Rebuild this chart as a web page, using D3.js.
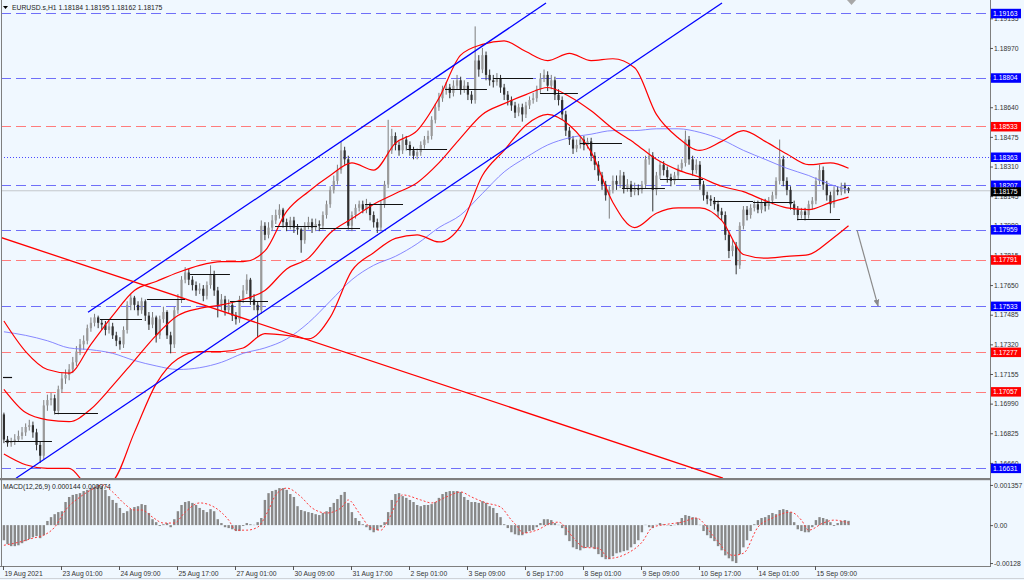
<!DOCTYPE html>
<html><head><meta charset="utf-8">
<script src="https://cdn.jsdelivr.net/npm/d3@7"></script>
<style>
html,body{margin:0;padding:0;background:#f0f8ff;overflow:hidden;}
svg{display:block;font-family:"Liberation Sans",Arial,sans-serif;}
</style></head><body>
<svg id="chart" width="1024" height="580"></svg>
<script>
// ---------------- DATA ----------------
const symbolTitle = "EURUSD.s,H1  1.18184 1.18195 1.18162 1.18175";
const macdTitle = "MACD(12,26,9) 0.000144 0.000074";
const timeLabels = ["19 Aug 2021","23 Aug 01:00","24 Aug 09:00","25 Aug 17:00","27 Aug 01:00","30 Aug 09:00","31 Aug 17:00","2 Sep 01:00","3 Sep 09:00","6 Sep 17:00","8 Sep 01:00","9 Sep 09:00","10 Sep 17:00","14 Sep 01:00","15 Sep 09:00"];
const timeLabelBars = [0,32,64,96,128,160,192,224,256,288,320,352,384,416,448];
const priceTicks = [1.19135,1.18970,1.18805,1.18640,1.18475,1.18310,1.18145,1.17980,1.17815,1.17650,1.17485,1.17320,1.17155,1.16990,1.16825,1.16660];
const macdTicks = [0.001357,0,-0.00128];
const macdTickLabels = ["0.001357","0.00","-0.00128"];

// 2-hour candles (open = previous close)
const firstOpen = 1.1693;
const closes = [1.1679,1.1677,1.1678,1.1679,1.1681,1.1683,1.1686,1.1687,1.1683,1.1676,
1.1670,1.1698,1.1701,1.1702,1.1695,1.1707,1.1713,1.1715,1.1718,1.1722,
1.1728,1.1732,1.1734,1.1741,1.1744,1.1747,1.1744,1.1743,1.1740,1.1742,
1.1737,1.1734,1.1732,1.1740,1.1754,1.1758,1.1754,1.1751,1.1756,1.1748,
1.1743,1.1747,1.1737,1.1746,1.1750,1.1737,1.1732,1.1751,1.1757,1.1768,
1.1772,1.1768,1.1765,1.1762,1.1763,1.1759,1.1765,1.1771,1.1762,1.1754,
1.1757,1.1751,1.1754,1.1748,1.1746,1.1757,1.1762,1.1768,1.1757,1.1754,
1.1751,1.1798,1.1793,1.1797,1.1801,1.1804,1.1807,1.1800,1.1798,1.1801,
1.1797,1.1796,1.1790,1.1798,1.1800,1.1797,1.1799,1.1798,1.1804,1.1810,
1.1818,1.1823,1.1829,1.1840,1.1835,1.1798,1.1804,1.1808,1.1810,1.1807,
1.1810,1.1804,1.1800,1.1797,1.1810,1.1821,1.1840,1.1848,1.1843,1.1840,
1.1846,1.1843,1.1840,1.1837,1.1839,1.1843,1.1846,1.1848,1.1857,1.1864,
1.1869,1.1874,1.1875,1.1872,1.1876,1.1879,1.1874,1.1876,1.1871,1.1868,
1.1890,1.1885,1.1893,1.1882,1.1879,1.1878,1.1880,1.1875,1.1871,1.1868,
1.1865,1.1861,1.1864,1.1860,1.1865,1.1868,1.1869,1.1874,1.1880,1.1882,
1.1876,1.1879,1.1871,1.1868,1.1860,1.1851,1.1846,1.1841,1.1843,1.1846,
1.1843,1.1845,1.1837,1.1832,1.1826,1.1821,1.1815,1.1818,1.1823,1.1821,
1.1826,1.1819,1.1821,1.1817,1.1819,1.1818,1.1821,1.1835,1.1837,1.1818,
1.1826,1.1832,1.1829,1.1825,1.1823,1.1826,1.1830,1.1833,1.1846,1.1835,
1.1829,1.1832,1.1821,1.1815,1.1813,1.1812,1.1810,1.1806,1.1804,1.1793,
1.1784,1.1787,1.1776,1.1798,1.1807,1.1804,1.1808,1.1810,1.1807,1.1811,
1.1809,1.1812,1.1815,1.1823,1.1835,1.1823,1.1818,1.1810,1.1807,1.1804,
1.1806,1.1804,1.1810,1.1812,1.1823,1.1829,1.1821,1.1815,1.1810,1.1818,
1.1817,1.1820,1.1819,1.18175];
const highs = [1.1694,1.1681,1.1680,1.1682,1.1684,1.1686,1.1688,1.1690,1.1689,1.1685,
1.1678,1.1701,1.1704,1.1705,1.1704,1.1709,1.1716,1.1718,1.1721,1.1725,
1.1731,1.1735,1.1737,1.1743,1.1747,1.1749,1.1748,1.1746,1.1745,1.1745,
1.1744,1.1739,1.1736,1.1742,1.1756,1.1760,1.1759,1.1756,1.1758,1.1757,
1.1750,1.1750,1.1748,1.1748,1.1753,1.1751,1.1739,1.1753,1.1760,1.1770,
1.1775,1.1774,1.1770,1.1767,1.1766,1.1765,1.1767,1.1776,1.1773,1.1764,
1.1760,1.1759,1.1757,1.1756,1.1750,1.1759,1.1765,1.1771,1.1769,1.1760,
1.1756,1.1801,1.1800,1.1800,1.1804,1.1807,1.1810,1.1808,1.1802,1.1803,
1.1803,1.1799,1.1797,1.1800,1.1803,1.1802,1.1802,1.1801,1.1806,1.1812,
1.1820,1.1826,1.1832,1.1845,1.1842,1.1837,1.1806,1.1810,1.1812,1.1812,
1.1813,1.1811,1.1806,1.1802,1.1812,1.1823,1.1857,1.1852,1.1850,1.1845,
1.1849,1.1848,1.1845,1.1842,1.1841,1.1845,1.1848,1.1851,1.1859,1.1866,
1.1872,1.1876,1.1878,1.1877,1.1879,1.1882,1.1881,1.1879,1.1878,1.1873,
1.1909,1.1893,1.1897,1.1895,1.1885,1.1882,1.1883,1.1882,1.1877,1.1873,
1.1870,1.1867,1.1866,1.1866,1.1867,1.1870,1.1872,1.1876,1.1883,1.1885,
1.1884,1.1882,1.1881,1.1874,1.1870,1.1862,1.1853,1.1848,1.1846,1.1848,
1.1848,1.1847,1.1847,1.1839,1.1834,1.1828,1.1823,1.1820,1.1826,1.1826,
1.1829,1.1828,1.1824,1.1823,1.1822,1.1821,1.1823,1.1837,1.1841,1.1839,
1.1828,1.1834,1.1834,1.1831,1.1827,1.1828,1.1832,1.1835,1.1851,1.1848,
1.1837,1.1835,1.1834,1.1823,1.1817,1.1815,1.1814,1.1812,1.1808,1.1806,
1.1795,1.1790,1.1789,1.1800,1.1809,1.1809,1.1810,1.1812,1.1812,1.1813,
1.1813,1.1814,1.1817,1.1825,1.1846,1.1837,1.1825,1.1820,1.1812,1.1809,
1.1808,1.1808,1.1812,1.1814,1.1825,1.1832,1.1831,1.1823,1.1817,1.1820,
1.1820,1.1822,1.1822,1.18195];
const lows = [1.1677,1.1675,1.1675,1.1676,1.1678,1.1679,1.1681,1.1684,1.1680,1.1673,
1.1666,1.1668,1.1695,1.1698,1.1693,1.1693,1.1705,1.1710,1.1712,1.1716,
1.1720,1.1726,1.1729,1.1732,1.1739,1.1742,1.1741,1.1740,1.1737,1.1738,
1.1735,1.1731,1.1729,1.1730,1.1738,1.1751,1.1751,1.1748,1.1749,1.1745,
1.1740,1.1741,1.1733,1.1735,1.1744,1.1735,1.1727,1.1730,1.1749,1.1755,
1.1766,1.1765,1.1762,1.1759,1.1760,1.1756,1.1757,1.1763,1.1759,1.1747,
1.1751,1.1748,1.1749,1.1745,1.1743,1.1744,1.1755,1.1760,1.1754,1.1751,
1.1736,1.1749,1.1790,1.1791,1.1795,1.1799,1.1802,1.1797,1.1795,1.1796,
1.1794,1.1793,1.1783,1.1788,1.1796,1.1794,1.1795,1.1795,1.1796,1.1802,
1.1808,1.1816,1.1821,1.1827,1.1832,1.1796,1.1795,1.1802,1.1806,1.1805,
1.1805,1.1801,1.1797,1.1794,1.1795,1.1808,1.1819,1.1838,1.1840,1.1837,
1.1838,1.1840,1.1837,1.1835,1.1835,1.1837,1.1841,1.1844,1.1846,1.1855,
1.1862,1.1867,1.1871,1.1869,1.1870,1.1874,1.1871,1.1872,1.1868,1.1866,
1.1866,1.1881,1.1883,1.1879,1.1876,1.1875,1.1876,1.1872,1.1868,1.1865,
1.1862,1.1858,1.1859,1.1856,1.1858,1.1863,1.1866,1.1867,1.1872,1.1878,
1.1873,1.1874,1.1868,1.1865,1.1857,1.1848,1.1843,1.1838,1.1839,1.1841,
1.1840,1.1841,1.1834,1.1829,1.1823,1.1818,1.1812,1.1802,1.1816,1.1818,
1.1819,1.1816,1.1817,1.1814,1.1815,1.1815,1.1816,1.1819,1.1832,1.1806,
1.1815,1.1824,1.1826,1.1822,1.1820,1.1821,1.1824,1.1828,1.1831,1.1832,
1.1826,1.1827,1.1818,1.1812,1.1810,1.1809,1.1807,1.1803,1.1801,1.1790,
1.1780,1.1781,1.1771,1.1774,1.1796,1.1801,1.1802,1.1806,1.1805,1.1805,
1.1806,1.1807,1.1810,1.1813,1.1821,1.1820,1.1815,1.1807,1.1804,1.1801,
1.1802,1.1801,1.1802,1.1807,1.1810,1.1821,1.1818,1.1812,1.1805,1.1808,
1.1815,1.1815,1.1816,1.18162];

// Bollinger bands and slow MA, sampled every 6 candles
const bandIdx = [0,6,12,18,24,30,36,42,48,54,60,66,72,78,84,90,96,102,108,114,120,126,132,138,144,150,156,162,168,174,180,186,192,198,204,210,216,222,228,233];
const bbUpper = [1.1745,1.1728,1.1718,1.1716,1.1732,1.1748,1.1762,1.1767,1.1772,1.1776,1.1778,1.1778,1.1784,1.1806,1.1817,1.1826,1.1833,1.1829,1.1844,1.1851,1.1869,1.1893,1.1899,1.1901,1.1895,1.1890,1.1894,1.1890,1.1891,1.1886,1.1860,1.1847,1.1840,1.1845,1.1851,1.1845,1.1838,1.1832,1.1833,1.1830];
const bbMiddle = [1.1707,1.1694,1.1690,1.1689,1.1696,1.1709,1.1723,1.1737,1.1748,1.1752,1.1754,1.1757,1.1762,1.1774,1.1780,1.1794,1.1802,1.1810,1.1816,1.1822,1.1833,1.1847,1.1860,1.1866,1.1871,1.1875,1.1870,1.1862,1.1852,1.1844,1.1835,1.1829,1.1825,1.1820,1.1817,1.1812,1.1808,1.1807,1.1811,1.1814];
const bbLower = [1.1671,1.1665,1.1663,1.1663,1.1652,1.1656,1.1683,1.1710,1.1724,1.1728,1.1728,1.1730,1.1738,1.1737,1.1735,1.1747,1.1773,1.1783,1.1791,1.1793,1.1789,1.1798,1.1826,1.1840,1.1854,1.1860,1.1854,1.1839,1.1811,1.1797,1.1805,1.1808,1.1808,1.1801,1.1782,1.1780,1.1781,1.1782,1.1790,1.1798];
const maSlow = [1.1739,1.1737,1.1734,1.1730,1.1729,1.1727,1.1723,1.1720,1.1718,1.1719,1.1722,1.1727,1.1730,1.1735,1.1744,1.1756,1.1768,1.1776,1.1781,1.1788,1.1797,1.1804,1.1816,1.1828,1.1836,1.1843,1.1847,1.1849,1.1851,1.1851,1.1852,1.1852,1.1850,1.1846,1.1840,1.1835,1.1830,1.1826,1.1821,1.1818];

// MACD histogram per candle and signal samples
const macdHist = [-0.00051,-0.00064,-0.00071,-0.00071,-0.00068,-0.00061,-0.00054,-0.00047,-0.00041,-0.00037,
-0.00044,-0.00034,0.00014,0.00027,0.00037,0.00044,0.00047,0.00078,0.00095,0.00102,
0.00105,0.00108,0.00115,0.00119,0.00125,0.00129,0.001357,0.00132,0.00119,0.00098,
0.00085,0.00075,0.00058,0.00041,0.00047,0.00054,0.00061,0.00064,0.00071,0.00068,
0.00041,0.00020,0.00010,-0.00003,0.00003,0.00007,-0.00007,0.00020,0.00047,0.00068,
0.00078,0.00081,0.00075,0.00068,0.00058,0.00051,0.00044,0.00054,0.00047,0.00020,
0.00007,-0.00007,-0.00010,-0.00014,-0.00020,-0.00020,-0.00003,0.00007,0.00003,0.00001,
0.00010,0.00024,0.00085,0.00108,0.00115,0.00119,0.00125,0.00125,0.00119,0.00105,
0.00095,0.00064,0.00051,0.00047,0.00044,0.00041,0.00037,0.00034,0.00041,0.00047,
0.00061,0.00075,0.00088,0.00102,0.00112,0.00075,0.00044,0.00024,0.00014,0.00003,
-0.00007,-0.00017,-0.00024,-0.00017,-0.00007,0.00010,0.00044,0.00085,0.00105,0.00108,
0.00098,0.00092,0.00085,0.00078,0.00068,0.00064,0.00068,0.00068,0.00071,0.00078,
0.00092,0.00105,0.00112,0.00115,0.00115,0.00115,0.00112,0.00095,0.00085,0.00078,
0.00078,0.00075,0.00081,0.00075,0.00064,0.00058,0.00041,0.00027,0.00003,-0.00010,
-0.00024,-0.00031,-0.00034,-0.00034,-0.00027,-0.00020,-0.00017,-0.00007,0.00007,0.00020,
0.00020,0.00017,0.00007,0.00001,-0.00010,-0.00034,-0.00054,-0.00075,-0.00081,-0.00085,
-0.00078,-0.00075,-0.00075,-0.00081,-0.00098,-0.00108,-0.00115,-0.00115,-0.00105,-0.00095,
-0.00092,-0.00088,-0.00085,-0.00075,-0.00064,-0.00051,-0.00024,0.00001,-0.00007,-0.00010,
0.00001,0.00007,0.00003,-0.00001,-0.00003,0.00001,0.00010,0.00024,0.00034,0.00031,
0.00027,0.00024,0.00001,-0.00020,-0.00034,-0.00044,-0.00054,-0.00071,-0.00085,-0.00102,
-0.00112,-0.00122,-0.00128,-0.00098,-0.00075,-0.00051,-0.00020,0.00003,0.00017,0.00024,
0.00027,0.00034,0.00041,0.00037,0.00051,0.00054,0.00051,0.00044,0.00010,-0.00014,
-0.00020,-0.00024,-0.00024,-0.00007,0.00017,0.00027,0.00024,0.00020,0.00010,-0.00003,
0.00007,0.00014,0.00017,0.000144];
const sigIdx = [0,4,8,11,14,17,21,25,27,30,33,36,38,41,44,47,50,54,58,62,64,67,70,73,75,78,82,85,89,93,95,98,101,104,106,110,115,118,122,126,129,133,137,140,142,143,147,151,153,157,160,164,167,172,176,179,183,187,191,196,201,204,208,212,217,220,222,226,229,233];
const sigVals = [-0.00068,-0.00058,-0.00044,-0.00034,-0.00007,0.00051,0.00095,0.00125,0.00136,0.00112,0.00075,0.00051,0.00051,0.00027,0.00007,0.00007,0.00044,0.00075,0.00061,0.00017,-0.00017,-0.00017,-0.00007,0.00051,0.00102,0.00125,0.00095,0.00058,0.00041,0.00058,0.00085,0.00041,-0.00007,-0.00017,0.00017,0.00102,0.00085,0.00075,0.00095,0.00112,0.00095,0.00075,0.00061,0.00017,-0.00010,-0.00027,-0.00017,0.00007,0.00010,-0.00041,-0.00075,-0.00078,-0.00112,-0.00095,-0.00058,-0.00007,0.00003,0.00010,0.00024,-0.00041,-0.00102,-0.00095,-0.00007,0.00024,0.00044,0.00017,-0.00017,0.00007,0.00017,0.00007];

// horizontal price levels
const levelPrices = [1.19163,1.18804,1.18533,1.18363,1.18207,1.17959,1.17791,1.17533,1.17277,1.17057,1.16631];
const levelKinds = ["blue","blue","red","dot","blue","blue","red","blue","red","red","blue"];
const currentPrice = 1.18175;

// trend lines (hour-bar index, price)
const trendStartBar = [46.9,7.2,-1.7];
const trendStartPrice = [1.17499,1.16575,1.17917];
const trendEndBar = [299.6,396.7,397.2];
const trendEndPrice = [1.19220,1.19220,1.16575];
const trendKinds = ["blue","blue","red"];
// forecast arrow
const arrowBar = [471.2,482.8];
const arrowPrice = [1.17956,1.17533];

// short black horizontal segments
const segStartBar = [0,1.1,28.7,53.5,79.4,103.2,125.2,150.1,174.9,199.7,222.9,243.9,270.3,296.3,318.3,341.5,362.5,391.7,413.8,438.1];
const segEndBar = [5,27.0,52.4,76.7,100.4,125.2,146.2,173.2,197.0,220.7,245.0,267.0,292.4,317.2,341.5,365.2,386.2,413.8,435.9,461.8];
const segPrice = [1.1714,1.1678,1.1694,1.1746,1.1757,1.1771,1.1756,1.1798,1.1797,1.1810,1.1841,1.1874,1.1880,1.1872,1.1844,1.1819,1.1824,1.1812,1.1811,1.1802];

// ---------------- DRAW ----------------
const W = 1024, H = 580;
const plotL = 1, plotR = 990, mainT = 0, mainB = 478, macdT = 481, macdB = 566;
const FS = 6.8;
const svg = d3.select("#chart");
svg.append("rect").attr("width", W).attr("height", H).attr("fill", "#f0f8ff");

const x = d3.scaleLinear().domain([0, 466]).range([3, 3 + 466 * 1.8125]);
const y = d3.scaleLinear().domain([1.16576, 1.19237]).range([mainB, mainT]);
const ym = d3.scaleLinear().domain([-0.00138, 0.00149]).range([macdB, macdT]);
const candleX = k => x(2 * k + 0.5);

const defs = svg.append("defs");
defs.append("clipPath").attr("id", "clipMain").append("rect")
  .attr("x", plotL).attr("y", mainT).attr("width", plotR - plotL).attr("height", mainB - mainT);
defs.append("clipPath").attr("id", "clipMacd").append("rect")
  .attr("x", plotL).attr("y", macdT).attr("width", plotR - plotL).attr("height", macdB - macdT);
defs.append("marker").attr("id", "arrowHead").attr("viewBox", "0 0 10 10")
  .attr("refX", 9).attr("refY", 5).attr("markerWidth", 6).attr("markerHeight", 6)
  .attr("orient", "auto").append("path").attr("d", "M0,1 L10,5 L0,9 Z").attr("fill", "#8a8a8a");

const main = svg.append("g").attr("clip-path", "url(#clipMain)");
const levelColor = {blue: "#6f6ff8", red: "#ff7c7c", dot: "#4a4aff"};

// current price line
main.append("line").attr("x1", plotL).attr("x2", plotR)
  .attr("y1", y(currentPrice)).attr("y2", y(currentPrice))
  .attr("stroke", "#c4c8cc").attr("stroke-width", 1);

// level lines
main.selectAll("line.level").data(levelPrices).join("line").attr("class", "level")
  .attr("x1", plotL).attr("x2", plotR)
  .attr("y1", d => Math.round(y(d)) + 0.5).attr("y2", d => Math.round(y(d)) + 0.5)
  .attr("stroke", (d, i) => levelColor[levelKinds[i]])
  .attr("stroke-width", 1)
  .attr("stroke-dasharray", (d, i) => levelKinds[i] === "dot" ? "1,2" : "10,5");

// candles
const candles = closes.map((c, k) => ({k, o: k === 0 ? firstOpen : closes[k - 1], c, h: highs[k], l: lows[k]}));
const cg = main.append("g");
cg.selectAll("line.wick").data(candles).join("line").attr("class", "wick")
  .attr("x1", d => candleX(d.k)).attr("x2", d => candleX(d.k))
  .attr("y1", d => y(d.h)).attr("y2", d => y(d.l))
  .attr("stroke", d => d.c >= d.o ? "#7d7d7d" : "#333").attr("stroke-width", 1);
cg.selectAll("rect.body").data(candles).join("rect").attr("class", "body")
  .attr("x", d => candleX(d.k) - 1.1).attr("width", 2.2)
  .attr("y", d => y(Math.max(d.o, d.c)))
  .attr("height", d => Math.max(1, Math.abs(y(d.o) - y(d.c))))
  .attr("fill", d => d.c >= d.o ? "#9a9a9a" : "#303030");

// bands and MA
const lineGen = arr => d3.line().curve(d3.curveMonotoneX)
  .x((d, i) => candleX(bandIdx[i])).y(d => y(d))(arr);
main.append("path").attr("d", lineGen(maSlow)).attr("fill", "none")
  .attr("stroke", "#7b7bff").attr("stroke-width", 0.9);
[bbUpper, bbMiddle, bbLower].forEach(arr => {
  main.append("path").attr("d", lineGen(arr)).attr("fill", "none")
    .attr("stroke", "#ff0000").attr("stroke-width", 1.2);
});

// trend lines
trendStartBar.forEach((b, i) => {
  main.append("line")
    .attr("x1", x(b)).attr("y1", y(trendStartPrice[i]))
    .attr("x2", x(trendEndBar[i])).attr("y2", y(trendEndPrice[i]))
    .attr("stroke", trendKinds[i] === "blue" ? "#0000ff" : "#ff0000").attr("stroke-width", 1.3);
});

// black segments
main.selectAll("line.seg").data(segPrice).join("line").attr("class", "seg")
  .attr("x1", (d, i) => x(segStartBar[i])).attr("x2", (d, i) => x(segEndBar[i]))
  .attr("y1", d => Math.round(y(d)) + 0.5).attr("y2", d => Math.round(y(d)) + 0.5)
  .attr("stroke", "#111").attr("stroke-width", 1.2);

// arrow
main.append("line")
  .attr("x1", x(arrowBar[0])).attr("y1", y(arrowPrice[0]))
  .attr("x2", x(arrowBar[1])).attr("y2", y(arrowPrice[1]))
  .attr("stroke", "#8a8a8a").attr("stroke-width", 1.2).attr("marker-end", "url(#arrowHead)");

// MACD panel
const mg = svg.append("g").attr("clip-path", "url(#clipMacd)");
mg.selectAll("rect.h").data(macdHist).join("rect").attr("class", "h")
  .attr("x", (d, k) => candleX(k) - 1.2).attr("width", 2.4)
  .attr("y", d => Math.min(ym(0), ym(d)))
  .attr("height", d => Math.abs(ym(d) - ym(0)))
  .attr("fill", "#888");
mg.append("path")
  .attr("d", d3.line().curve(d3.curveMonotoneX).x((d, i) => candleX(sigIdx[i])).y(d => ym(d))(sigVals))
  .attr("fill", "none").attr("stroke", "#ff3b3b").attr("stroke-width", 1).attr("stroke-dasharray", "2,2");

// frames
const frame = svg.append("g").attr("fill", "none").attr("stroke", "#7f7f7f");
frame.append("line").attr("x1", 1.5).attr("x2", 1.5).attr("y1", 0).attr("y2", macdB);
frame.append("line").attr("x1", plotR + 0.5).attr("x2", plotR + 0.5).attr("y1", 0).attr("y2", macdB);
svg.append("rect").attr("x", 0).attr("y", mainB).attr("width", plotR + 1).attr("height", 2.2).attr("fill", "#7f7f7f");
frame.append("line").attr("x1", 0).attr("x2", plotR + 1).attr("y1", macdB + 0.5).attr("y2", macdB + 0.5);
svg.append("line").attr("x1", 0).attr("x2", W).attr("y1", 578.5).attr("y2", 578.5).attr("stroke", "#cfd3d8");

// price axis
const pAxis = svg.append("g").attr("transform", `translate(${plotR},0)`)
  .call(d3.axisRight(y).tickValues(priceTicks).tickFormat(d3.format(".5f")).tickSize(3).tickPadding(1));
pAxis.select(".domain").remove();
pAxis.selectAll("line").attr("stroke", "#555");
pAxis.selectAll("text").attr("font-size", FS).attr("fill", "#333").attr("font-family", "Liberation Sans, Arial");

// macd axis
const mAxis = svg.append("g").attr("transform", `translate(${plotR},0)`)
  .call(d3.axisRight(ym).tickValues(macdTicks).tickFormat((d, i) => macdTickLabels[i]).tickSize(3).tickPadding(1));
mAxis.select(".domain").remove();
mAxis.selectAll("line").attr("stroke", "#555");
mAxis.selectAll("text").attr("font-size", FS).attr("fill", "#333").attr("font-family", "Liberation Sans, Arial");

// time axis
const tAxis = svg.append("g").attr("transform", `translate(0,${macdB})`)
  .call(d3.axisBottom(x).tickValues(timeLabelBars).tickFormat((d, i) => timeLabels[i]).tickSize(4).tickPadding(1));
tAxis.select(".domain").remove();
tAxis.selectAll("line").attr("stroke", "#555");
tAxis.selectAll("text").attr("font-size", FS).attr("fill", "#333").attr("text-anchor", "start")
  .attr("dx", 1).attr("font-family", "Liberation Sans, Arial");

// level labels on the price axis
const boxColor = {blue: "#0000ff", red: "#ff0000", dot: "#0000ff"};
const lbl = svg.append("g");
levelPrices.forEach((p, i) => {
  const yy = y(p);
  lbl.append("rect").attr("x", plotR + 1).attr("y", yy - 4.5).attr("width", 30).attr("height", 9.5)
    .attr("fill", boxColor[levelKinds[i]]);
  lbl.append("text").attr("x", plotR + 3).attr("y", yy + 2.6).attr("font-size", FS)
    .attr("fill", "#fff").text(d3.format(".5f")(p));
});
{
  const yy = y(currentPrice);
  lbl.append("rect").attr("x", plotR + 1).attr("y", yy - 3.5).attr("width", 30).attr("height", 9)
    .attr("fill", "#000");
  lbl.append("text").attr("x", plotR + 3).attr("y", yy + 3.4).attr("font-size", FS)
    .attr("fill", "#fff").text(d3.format(".5f")(currentPrice));
}

// titles
svg.append("path").attr("d", "M3,6 L8,6 L5.5,9 Z").attr("fill", "#000");
svg.append("text").attr("x", 12).attr("y", 10).attr("font-size", FS).attr("fill", "#222").text(symbolTitle);
svg.append("text").attr("x", 3).attr("y", 489).attr("font-size", FS).attr("fill", "#222").text(macdTitle);
// chart-shift marker
svg.append("path").attr("d", "M847,0 L856,0 L851.5,5 Z").attr("fill", "#a8a8a8");
</script>
</body></html>
